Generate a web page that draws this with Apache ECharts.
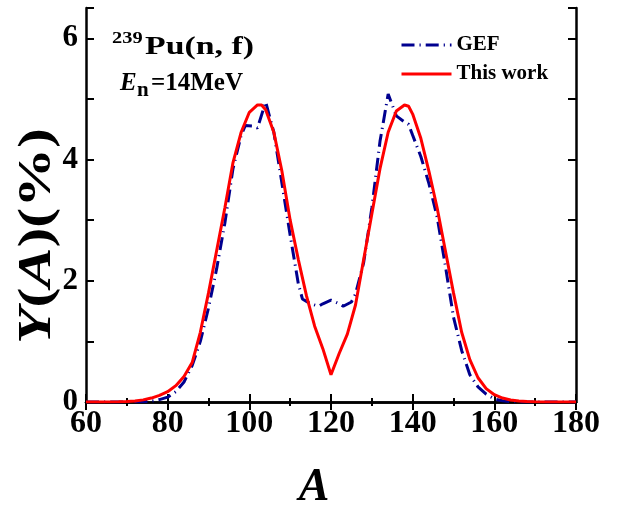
<!DOCTYPE html>
<html>
<head>
<meta charset="utf-8">
<script src="https://cdn.jsdelivr.net/npm/echarts@6/dist/echarts.min.js"></script>
<style>
html,body{margin:0;padding:0;background:#fff;}
#chart{width:628px;height:505px;}
</style>
</head>
<body>
<div id="chart"></div>
<script>
// Mass numbers and yields (%) — "This work"
const massThisWork = [60,64,68,70,72,74,76,78,80,82,84,86,88,90,92,94,96,98,100,102,103,104,106,108,110,112,114,116,118,120,122,124,126,128,130,132,134,136,138,139,140,142,144,146,148,150,152,154,156,158,160,162,164,166,168,170,172,176,180];
const yieldThisWork = [0,0,0.003,0.008,0.018,0.035,0.065,0.11,0.17,0.27,0.42,0.65,1.15,1.8,2.5,3.2,3.95,4.45,4.78,4.9,4.9,4.82,4.45,3.8,3.0,2.35,1.75,1.25,0.88,0.45,0.8,1.12,1.6,2.35,3.1,3.85,4.45,4.8,4.9,4.88,4.75,4.35,3.8,3.2,2.5,1.8,1.15,0.7,0.4,0.22,0.12,0.065,0.033,0.016,0.007,0.003,0.001,0,0];
// GEF
const massGEF = [60,70,74,76,78,80,82,84,86,88,90,92,94,96,98,99,101,102,104,106,108,110,112,113,115,117,118,120,122,123,125,126,128,130,132,134,136,138,139,140,142,144,146,148,150,152,154,156,158,160,162,164,166,180];
const yieldGEF = [0,0,0.005,0.015,0.04,0.08,0.17,0.33,0.6,1.0,1.55,2.2,2.95,3.85,4.4,4.56,4.55,4.52,4.95,4.45,3.6,2.75,1.95,1.7,1.62,1.58,1.62,1.68,1.62,1.58,1.65,1.78,2.3,3.2,4.3,5.08,4.72,4.62,4.58,4.4,4.05,3.6,3.05,2.25,1.4,0.85,0.45,0.25,0.13,0.05,0.02,0.005,0,0];
const seriesNames = ['GEF', 'This work'];
const xTickValues = [60, 80, 100, 120, 140, 160, 180];
const yTickValues = [0, 2, 4, 6];

const FONT = '"Liberation Serif", "Times New Roman", serif';
const chart = echarts.init(document.getElementById('chart'), null, {renderer: 'canvas'});

const pairs = (xs, ys) => xs.map((x, i) => [x, ys[i]]);

const axisLine = {show: true, lineStyle: {color: '#000', width: 2.5}};
const option = {
  animation: false,
  backgroundColor: '#fff',
  grid: {left: 86, right: 52, top: 8, bottom: 103, containLabel: false},
  legend: {
    left: 400, top: 34, orient: 'vertical', padding: 0,
    itemWidth: 50, itemHeight: 14, itemGap: 7,
    itemStyle: {opacity: 0},
    lineStyle: {width: 3},
    textStyle: {fontFamily: FONT, fontWeight: 'bold', fontSize: 21, color: '#000', lineHeight: 22},
    data: seriesNames
  },
  xAxis: [{
    type: 'value', min: 60, max: 180, interval: 20, position: 'bottom',
    axisLine: axisLine,
    axisTick: {show: true, inside: true, length: 8, lineStyle: {color: '#000', width: 2}},
    minorTick: {show: true, splitNumber: 2, length: 4, lineStyle: {color: '#000', width: 2}},
    splitLine: {show: false},
    axisLabel: {
      margin: 6, fontFamily: FONT, fontWeight: 'bold', fontSize: 32, color: '#000',
      formatter: v => xTickValues.includes(v) ? String(v) : ''
    }
  }, {
    type: 'value', min: 60, max: 180, interval: 20, position: 'top',
    axisLine: axisLine,
    axisTick: {show: true, inside: true, length: 8, lineStyle: {color: '#000', width: 2}},
    minorTick: {show: true, splitNumber: 2, length: 4, lineStyle: {color: '#000', width: 2}},
    splitLine: {show: false}, axisLabel: {show: false}
  }],
  yAxis: [{
    type: 'value', min: 0, max: 6.5, interval: 1, position: 'left',
    axisLine: axisLine,
    axisTick: {show: true, inside: true, length: 8, lineStyle: {color: '#000', width: 2}},
    splitLine: {show: false},
    axisLabel: {
      margin: 8, fontFamily: FONT, fontWeight: 'bold', fontSize: 31, color: '#000',
      formatter: v => yTickValues.includes(v) ? String(v) : ''
    }
  }, {
    type: 'value', min: 0, max: 6.5, interval: 1, position: 'right',
    axisLine: axisLine,
    axisTick: {show: true, inside: true, length: 8, lineStyle: {color: '#000', width: 2}},
    splitLine: {show: false}, axisLabel: {show: false}
  }],
  series: [{
    name: seriesNames[0], type: 'line', xAxisIndex: 0, yAxisIndex: 0,
    data: pairs(massGEF, yieldGEF), showSymbol: false, symbol: 'none',
    lineStyle: {color: '#00008f', width: 3, type: [13, 5, 1.2, 5]},
    itemStyle: {color: '#00008f'}, z: 2
  }, {
    name: seriesNames[1], type: 'line', xAxisIndex: 0, yAxisIndex: 0,
    data: pairs(massThisWork, yieldThisWork), showSymbol: false, symbol: 'none',
    lineStyle: {color: '#ff0000', width: 3},
    itemStyle: {color: '#ff0000'}, z: 3
  }],
  graphic: [
    {type: 'text', x: 112, y: 30, scaleX: 1.2, style: {text: '239', font: 'bold 17px ' + FONT, fill: '#000'}},
    {type: 'text', x: 145, y: 34, scaleX: 1.3, style: {text: 'Pu(n, f)', font: 'bold 26px ' + FONT, fill: '#000'}},
    {type: 'text', x: 120, y: 71, style: {text: 'E', font: 'italic bold 25px ' + FONT, fill: '#000'}},
    {type: 'text', x: 137, y: 80, style: {text: 'n', font: 'bold 21px ' + FONT, fill: '#000'}},
    {type: 'text', x: 151, y: 71, style: {text: '=14MeV', font: 'bold 25px ' + FONT, fill: '#000'}},
    {type: 'text', left: 'center', top: 465, style: {
      text: 'A', font: 'italic bold 46px ' + FONT, fill: '#000'}},
    {type: 'text', x: 38, y: 236, rotation: Math.PI / 2, scaleX: 1.3, style: {
      text: '{i|Y}{n|(}{i|A}{n|)(%)}', align: 'center', verticalAlign: 'middle',
      rich: {
        i: {font: 'italic bold 46px ' + FONT, fill: '#000'},
        n: {font: 'bold 46px ' + FONT, fill: '#000'}
      }
    }}
  ]
};
chart.setOption(option);
</script>
</body>
</html>
